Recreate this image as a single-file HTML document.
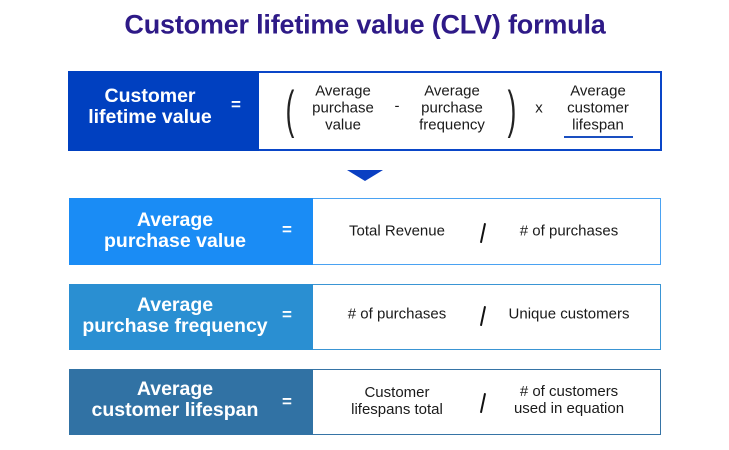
<!DOCTYPE html>
<html><head><meta charset="utf-8"><style>
body{margin:0;width:729px;height:450px;background:#fff;position:relative;overflow:hidden;font-family:"Liberation Sans",sans-serif}
.a{position:absolute;white-space:nowrap;transform:translate(-50%,-50%);text-align:center}
.box{position:absolute;box-sizing:border-box}
.w{color:#fff;font-weight:bold;font-size:19.5px;line-height:21px}
.k{color:#1a1a1a;font-size:15px;line-height:17px}
.eq{color:#fff;font-weight:bold;font-size:17px}
.sl{position:absolute;width:1.6px;height:20px;background:#111;transform:rotate(12deg)}
</style></head><body>
<div class="a" style="left:365px;top:25px;color:#2e1a87;font-weight:bold;font-size:27px;letter-spacing:-0.2px">Customer lifetime value (CLV) formula</div>

<div class="box" style="left:68px;top:71px;width:594px;height:80px;border:2px solid #0a46c8;background:#fff"></div>
<div class="box" style="left:68px;top:71px;width:191px;height:80px;background:#0040c0"></div>
<div class="a w" style="left:150px;top:107px">Customer<br>lifetime value</div>
<div class="a eq" style="left:236px;top:105px">=</div>
<div class="a" style="left:290px;top:110px;font-size:52px;font-weight:100;color:#222;transform:translate(-50%,-50%) scaleX(0.5)">(</div>
<div class="a k" style="left:343px;top:108px">Average<br>purchase<br>value</div>
<div class="a k" style="left:397px;top:106px">-</div>
<div class="a k" style="left:452px;top:108px">Average<br>purchase<br>frequency</div>
<div class="a" style="left:512px;top:110px;font-size:52px;font-weight:100;color:#222;transform:translate(-50%,-50%) scaleX(0.5)">)</div>
<div class="a k" style="left:539px;top:108px">x</div>
<div class="a k" style="left:598px;top:108px">Average<br>customer<br>lifespan</div>
<div class="box" style="left:564px;top:136px;width:69px;height:2px;background:#1a4fc0"></div>

<div class="a" style="left:365px;top:175px;width:0;height:0;border-left:18px solid transparent;border-right:18px solid transparent;border-top:11px solid #0a3fc2;transform:none;margin-left:-18px;margin-top:-5px"></div>

<div class="box" style="left:69px;top:198px;width:592px;height:67px;border:1.5px solid #4aa2f2;background:#fff"></div>
<div class="box" style="left:69px;top:198px;width:244px;height:67px;background:#1a8cf5"></div>
<div class="a w" style="left:175px;top:231px">Average<br>purchase value</div>
<div class="a eq" style="left:287px;top:230px">=</div>
<div class="a k" style="left:397px;top:231px">Total Revenue</div>
<div class="sl" style="left:482px;top:223px"></div>
<div class="a k" style="left:569px;top:231px">#&nbsp;of purchases</div>

<div class="box" style="left:69px;top:284px;width:592px;height:66px;border:1.5px solid #3a95d4;background:#fff"></div>
<div class="box" style="left:69px;top:284px;width:244px;height:66px;background:#2a8fd2"></div>
<div class="a w" style="left:175px;top:316px">Average<br>purchase frequency</div>
<div class="a eq" style="left:287px;top:315px">=</div>
<div class="a k" style="left:397px;top:314px">#&nbsp;of purchases</div>
<div class="sl" style="left:482px;top:306px"></div>
<div class="a k" style="left:569px;top:314px">Unique customers</div>

<div class="box" style="left:69px;top:369px;width:592px;height:66px;border:1.5px solid #3674a6;background:#fff"></div>
<div class="box" style="left:69px;top:369px;width:244px;height:66px;background:#3172a4"></div>
<div class="a w" style="left:175px;top:400px">Average<br>customer lifespan</div>
<div class="a eq" style="left:287px;top:402px">=</div>
<div class="a k" style="left:397px;top:401px">Customer<br>lifespans total</div>
<div class="sl" style="left:482px;top:393px"></div>
<div class="a k" style="left:569px;top:400px">#&nbsp;of customers<br>used in equation</div>
</body></html>
